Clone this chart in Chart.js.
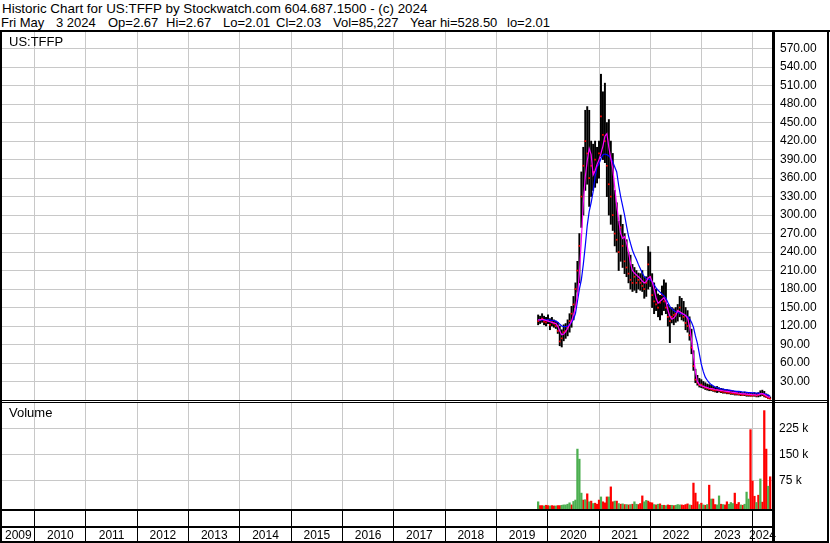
<!DOCTYPE html>
<html><head><meta charset="utf-8">
<script src="https://cdn.jsdelivr.net/npm/chart.js@4.4.1/dist/chart.umd.min.js"></script>
<style>
html,body{margin:0;padding:0;background:#fff;}
#wrap{position:relative;width:830px;height:543px;overflow:hidden;font-family:'Liberation Sans',Arial,sans-serif;}
.ln{position:absolute;background:#000;}
.txt{position:absolute;white-space:pre;font-size:13px;color:#000;line-height:14px;}
canvas{position:absolute;left:0;}
</style></head><body>
<div id="wrap">
  <div class="txt" style="left:2px;top:2px;font-size:13.4px">Historic Chart for US:TFFP by Stockwatch.com 604.687.1500 - (c) 2024</div>
  <div class="txt" style="left:1px;top:16px">Fri May</div>
  <div class="txt" style="left:56px;top:16px">3 2024</div>
  <div class="txt" style="left:108px;top:16px">Op=2.67</div>
  <div class="txt" style="left:166px;top:16px">Hi=2.67</div>
  <div class="txt" style="left:223px;top:16px">Lo=2.01</div>
  <div class="txt" style="left:276px;top:16px">Cl=2.03</div>
  <div class="txt" style="left:333px;top:16px">Vol=85,227</div>
  <div class="txt" style="left:410px;top:16px">Year hi=528.50</div>
  <div class="txt" style="left:507px;top:16px">lo=2.01</div>
  <canvas id="price" width="830" height="368" style="top:32px"></canvas>
  <canvas id="vol" width="830" height="140" style="top:403px"></canvas>
  <div class="txt" style="left:9px;top:35px">US:TFFP</div>
  <div class="txt" style="left:9px;top:406px">Volume</div>
  <div class="ln" style="left:0;top:30px;width:830px;height:2px"></div>
  <div class="ln" style="left:0;top:30px;width:2px;height:513px"></div>
  <div class="ln" style="left:827px;top:30px;width:2px;height:513px"></div>
  <div class="ln" style="left:0;top:400px;width:829px;height:1px"></div>
  <div class="ln" style="left:0;top:402px;width:829px;height:1px"></div>
  <div class="ln" style="left:772px;top:32px;width:3px;height:511px"></div>
  <div class="ln" style="left:0;top:509px;width:772px;height:2px"></div>
  <div class="ln" style="left:0;top:526px;width:772px;height:2px"></div>
  <div class="ln" style="left:0;top:541px;width:829px;height:2px"></div>
</div>
<script>
// ---- data (prices adjusted; one bar per two weeks) ----
const startDate = '2019-10-25';
const stepDays = 14;
const barLow = [
 122,124,126,122,120,124,114,120,118,116,
 108,88,86,96,100,104,110,118,130,150,
 175,190,280,300,340,350,314,330,340,345,
 352,360,395,390,385,330,300,285,275,250,
 240,210,225,215,205,200,190,180,176,178,
 174,180,178,176,165,168,180,184,150,140,
 145,135,130,138,145,140,120,93,125,122,
 126,128,135,130,128,114,110,97,75,48,
 28,24,21,20,19,17,16,15,15,14,
 13,12,13,12,11,11,10,10,9,9,
 8,8,8,7,7,7,6,6,6,6,
 6,5,5,6,7,5,4,2,2.01];
const barHigh = [
 138,136,140,136,134,138,132,134,130,128,
 126,120,114,122,124,130,140,152,168,190,
 225,270,370,410,470,476,470,420,415,420,
 410,420,528.5,500,514,450,455,420,400,340,
 320,290,300,285,270,260,240,235,220,215,
 210,206,205,210,200,200,249,240,205,190,
 180,172,170,185,195,190,155,150,150,148,
 150,155,168,165,160,150,145,135,115,80,
 50,40,35,33,30,28,26,25,24,22,
 21,22,20,19,18,17,17,16,15,15,
 14,14,13,13,12,13,12,12,11,11,
 12,11,12,15,16,14,10,8,5];
const barClose = [
 128,130,132,127,126,130,122,126,124,120,
 112,95,100,110,112,118,128,140,155,180,
 210,250,330,380,420,400,360,380,370,390,
 380,400,460,430,420,380,350,330,300,270,
 260,240,280,250,225,215,205,195,190,200,
 190,195,190,185,180,190,220,200,170,160,
 155,150,158,170,160,150,135,128,135,138,
 140,145,150,140,135,125,120,105,85,55,
 33,28,24,25,22,20,19,18,17,16,
 15,16,15,14,13,13,12,12,11,11,
 10,10,9,9,8,9,8,8,7,7,
 8,7,8,10,9,7,5,3,2.03];
const maShort = [
 130,130,131,130,129,128,127,126,125,124,
 120,112,106,107,111,116,122,128,138,150,
 170,205,260,320,362,388,408,398,365,372,
 382,390,400,412,428,432,410,392,375,345,
 315,292,270,262,265,255,240,222,210,206,
 203,200,197,193,190,192,198,200,192,180,
 165,157,160,163,166,160,146,136,131,133,
 137,145,143,141,139,137,133,120,98,72,
 46,30,25,23,22,21,20,19,18.5,18,
 17,16.5,16,15.5,15,14.5,14,13.5,13,12.5,
 12,11.5,11,10.5,10,10,9.5,9,9,8.5,
 8.5,8,8.5,10,10.5,9,7,5,4];
const maLong = [
 130,130,130,130,130,130,130,129,129,128,
 126,123,120,119,119,120,122,126,131,140,
 160,180,195,220,250,283,306,320,338,362,
 378,383,392,398,399,398,396,392,386,378,
 370,348,330,315,300,282,266,254,243,235,
 228,220,213,206,200,197,196,195,192,187,
 182,178,175,172,169,165,158,152,148,145,
 143,142,141,140,139,137,135,132,126,118,
 104,92,75,58,46,37,32,28,25,23,
 21,20,19,18,17.5,17,16.5,16,15.5,15,
 14.5,14,14,13.5,13,13,12.5,12,12,11.5,
 11.5,11,11,10.5,10.5,10,9,8,6];
const volumeK = [
 13,2,2,1,3,2,1,2,1,1,
 2,2,3,4,4,6,10,4,14,18,
 165,136,38,18,19,36,13,15,8,9,
 6,18,27,13,10,27,27,56,13,15,
 15,8,6,7,5,5,4,5,6,13,
 6,5,8,30,13,17,15,11,10,5,
 4,6,7,3,3,2,4,3,3,2,
 3,5,4,4,3,5,7,4,3,67,
 38,13,5,9,4,3,5,61,21,21,
 5,4,30,6,5,4,13,6,11,8,
 38,6,11,4,3,6,41,21,221,73,
 29,11,32,79,12,276,165,58,85.227];
const upDay = [
 1,0,0,1,0,0,1,0,0,1,
 0,0,1,1,1,1,1,0,1,1,
 1,1,1,0,1,0,1,0,1,0,
 0,0,1,0,0,0,1,0,0,1,
 0,1,0,1,0,1,0,1,0,1,
 1,0,0,0,1,1,0,0,0,1,
 0,1,0,1,0,1,0,0,1,0,
 1,1,1,0,0,0,0,1,0,0,
 0,0,1,0,1,0,1,0,1,0,
 0,1,1,0,1,0,0,1,1,1,
 0,0,0,1,0,1,1,1,0,0,
 0,1,0,1,0,0,0,1,0];
const priceTicks = [30,60,90,120,150,180,210,240,270,300,330,360,390,420,450,480,510,540,570];
const volumeTicks = [75,150,225];
const yearLabels = ['2009','2010','2011','2012','2013','2014','2015','2016','2017','2018','2019','2020','2021','2022','2023','2024'];
const xRange = [2009.363, 2024.372];
const priceRange = [0, 597];
const volumeRange = [-7.8, 298];

// ---- helpers ----
function decYear(ms){const d=new Date(ms);const y=d.getUTCFullYear();const a=Date.UTC(y,0,1),b=Date.UTC(y+1,0,1);return y+(ms-a)/(b-a);}
const t0 = Date.parse(startDate+'T00:00:00Z');
const barX = barLow.map((_,i)=>decYear(t0+i*stepDays*86400000));
const yearTicks = yearLabels.slice(1).map(Number);
const FONT = {family:"'Liberation Sans', Arial, sans-serif", size:12};
function noPad(s){ s.paddingLeft=0; s.paddingRight=0; s.paddingTop=0; s.paddingBottom=0; }
const LAYOUT = {autoPadding:false, padding:{left:2,right:0,top:0,bottom:0}};

new Chart(document.getElementById('price'), {
  type:'bar',
  data:{datasets:[
    {type:'line', label:'MA short', data:barX.map((x,i)=>({x, y:maShort[i]})), borderColor:'#ff00ff', borderWidth:1.2, pointRadius:0, tension:0, order:0},
    {type:'line', label:'MA long', data:barX.map((x,i)=>({x, y:maLong[i]})), borderColor:'#0000ff', borderWidth:1.2, pointRadius:0, tension:0, order:1},
    {type:'line', label:'Close', data:barX.map((x,i)=>({x, y:barClose[i]})), showLine:false, pointStyle:'rect', pointRadius:1.2, backgroundColor:'#ff0000', borderWidth:0, order:2},
    {type:'bar', label:'Range', data:barX.map((x,i)=>({x, y:[barLow[i], barHigh[i]]})), backgroundColor:'#000', barThickness:1.3, order:3}
  ]},
  options:{
    responsive:false, animation:false, events:[],
    layout:LAYOUT,
    plugins:{legend:{display:false}, tooltip:{enabled:false}},
    scales:{
      x:{type:'linear', min:xRange[0], max:xRange[1], offset:false,
         grid:{color:'#c8c8c8', drawTicks:false, offset:false}, border:{display:false}, ticks:{display:false},
         afterBuildTicks:s=>{ s.ticks = yearTicks.map(v=>({value:v})); },
         afterFit:s=>{ s.height=0; noPad(s); }},
      y:{position:'right', min:priceRange[0], max:priceRange[1],
         grid:{color:'#c8c8c8', drawTicks:false}, border:{display:false},
         ticks:{crossAlign:'near', padding:8, color:'#000', font:FONT, callback:v=>Number(v).toFixed(2)},
         afterBuildTicks:s=>{ s.ticks = priceTicks.map(v=>({value:v})); },
         afterFit:s=>{ s.width=58; noPad(s); }}
    }
  }
});

const clear = 'rgba(0,0,0,0)';
new Chart(document.getElementById('vol'), {
  type:'bar',
  data:{datasets:[
    {label:'Volume up', data:barX.map((x,i)=>({x, y:volumeK[i], u:upDay[i]})).filter(p=>p.u===1), backgroundColor:'#4caf50', barThickness:1.6, base:volumeRange[0], grouped:false},
    {label:'Volume down', data:barX.map((x,i)=>({x, y:volumeK[i], u:upDay[i]})).filter(p=>p.u===0), backgroundColor:'#ff0000', barThickness:1.6, base:volumeRange[0], grouped:false}
  ]},
  options:{
    responsive:false, animation:false, events:[],
    layout:LAYOUT,
    plugins:{legend:{display:false}, tooltip:{enabled:false}},
    scales:{
      x:{type:'linear', min:xRange[0], max:xRange[1], offset:false, border:{display:false},
         grid:{offset:false, tickLength:34,
               color:c=>(c.tick && c.tick.mid) ? clear : '#c8c8c8',
               tickColor:c=>(c.tick && c.tick.mid) ? clear : '#000'},
         ticks:{color:'#000', font:FONT, padding:-15, autoSkip:false, maxRotation:0, minRotation:0,
                callback:(v,i,ticks)=> ticks[i].mid ? ticks[i].lab : ''},
         afterBuildTicks:s=>{
           const t = yearTicks.map(v=>({value:v}));
           yearLabels.forEach(l=>{ const y=Number(l); const lo=Math.max(y,s.min), hi=Math.min(y+1,s.max); t.push({value:(lo+hi)/2, mid:true, lab:l}); });
           t.sort((a,b)=>a.value-b.value);
           s.ticks = t;
         },
         afterFit:s=>{ s.height=34; noPad(s); }},
      y:{position:'right', min:volumeRange[0], max:volumeRange[1],
         grid:{color:'#c8c8c8', drawTicks:false}, border:{display:false},
         ticks:{crossAlign:'near', padding:7, color:'#000', font:FONT, callback:v=>v+' k'},
         afterBuildTicks:s=>{ s.ticks = volumeTicks.map(v=>({value:v})); },
         afterFit:s=>{ s.width=58; noPad(s); }}
    }
  }
});
</script>
</body></html>
